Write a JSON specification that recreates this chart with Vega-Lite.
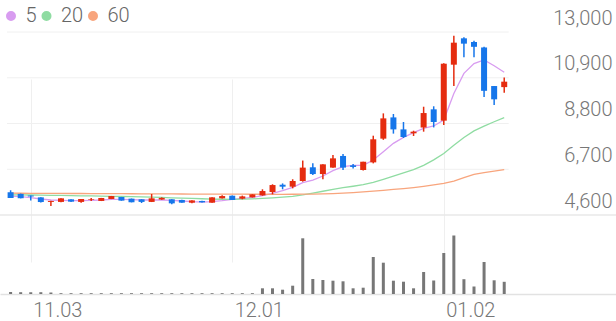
{
  "$schema": "https://vega.github.io/schema/vega-lite/v6.json",
  "width": 616,
  "height": 294,
  "autosize": {"type": "none"},
  "padding": {"left": 0, "top": 0, "right": 0, "bottom": 27},
  "background": "white",
  "config": {"view": {"stroke": null}, "font": "Roboto"},
  "data": {"values": [
    {"i":0,"o":5640,"h":5735,"l":5380,"c":5385,"v":200000,"5":5472,"20":5525,"60":5600},
    {"i":1,"o":5570,"h":5580,"l":5365,"c":5370,"v":180000,"5":5442,"20":5522,"60":5598},
    {"i":2,"o":5490,"h":5495,"l":5260,"c":5445,"v":180000,"5":5395,"20":5518,"60":5596},
    {"i":3,"o":5410,"h":5415,"l":5170,"c":5195,"v":180000,"5":5334,"20":5512,"60":5594},
    {"i":4,"o":5200,"h":5250,"l":5015,"c":5245,"v":150000,"5":5288,"20":5505,"60":5592},
    {"i":5,"o":5200,"h":5370,"l":5190,"c":5365,"v":80000,"5":5273,"20":5498,"60":5590},
    {"i":6,"o":5320,"h":5325,"l":5200,"c":5212,"v":80000,"5":5258,"20":5490,"60":5588},
    {"i":7,"o":5200,"h":5340,"l":5165,"c":5335,"v":80000,"5":5258,"20":5482,"60":5586},
    {"i":8,"o":5290,"h":5380,"l":5240,"c":5320,"v":80000,"5":5273,"20":5474,"60":5584},
    {"i":9,"o":5245,"h":5385,"l":5240,"c":5380,"v":80000,"5":5288,"20":5466,"60":5582},
    {"i":10,"o":5335,"h":5475,"l":5330,"c":5470,"v":80000,"5":5319,"20":5458,"60":5580},
    {"i":11,"o":5425,"h":5430,"l":5255,"c":5260,"v":80000,"5":5319,"20":5450,"60":5578},
    {"i":12,"o":5350,"h":5355,"l":5180,"c":5185,"v":80000,"5":5303,"20":5440,"60":5576},
    {"i":13,"o":5320,"h":5325,"l":5150,"c":5200,"v":80000,"5":5288,"20":5430,"60":5573},
    {"i":14,"o":5200,"h":5565,"l":5195,"c":5365,"v":80000,"5":5288,"20":5418,"60":5570},
    {"i":15,"o":5310,"h":5410,"l":5300,"c":5385,"v":80000,"5":5288,"20":5405,"60":5568},
    {"i":16,"o":5320,"h":5325,"l":5090,"c":5135,"v":80000,"5":5273,"20":5390,"60":5566},
    {"i":17,"o":5290,"h":5295,"l":5160,"c":5165,"v":80000,"5":5243,"20":5375,"60":5564},
    {"i":18,"o":5165,"h":5275,"l":5135,"c":5270,"v":80000,"5":5212,"20":5360,"60":5562},
    {"i":19,"o":5245,"h":5250,"l":5175,"c":5180,"v":80000,"5":5197,"20":5345,"60":5560},
    {"i":20,"o":5165,"h":5415,"l":5160,"c":5410,"v":80000,"5":5212,"20":5330,"60":5558},
    {"i":21,"o":5365,"h":5505,"l":5355,"c":5470,"v":80000,"5":5258,"20":5322,"60":5556},
    {"i":22,"o":5485,"h":5490,"l":5285,"c":5290,"v":80000,"5":5319,"20":5320,"60":5555},
    {"i":23,"o":5350,"h":5490,"l":5320,"c":5455,"v":80000,"5":5365,"20":5325,"60":5554},
    {"i":24,"o":5410,"h":5550,"l":5405,"c":5545,"v":80000,"5":5411,"20":5340,"60":5553},
    {"i":25,"o":5500,"h":5780,"l":5485,"c":5700,"v":570000,"5":5487,"20":5362,"60":5552},
    {"i":26,"o":5655,"h":6010,"l":5550,"c":5975,"v":570000,"5":5594,"20":5390,"60":5551},
    {"i":27,"o":5990,"h":6050,"l":5780,"c":5900,"v":430000,"5":5717,"20":5420,"60":5550},
    {"i":28,"o":5900,"h":6240,"l":5825,"c":6160,"v":830000,"5":5870,"20":5455,"60":5552},
    {"i":29,"o":6160,"h":7100,"l":6130,"c":6775,"v":5570000,"5":6084,"20":5520,"60":5555},
    {"i":30,"o":6790,"h":6970,"l":6435,"c":6480,"v":1500000,"5":6206,"20":5600,"60":5562},
    {"i":31,"o":6480,"h":6930,"l":6240,"c":6925,"v":1400000,"5":6390,"20":5690,"60":5572},
    {"i":32,"o":6775,"h":7355,"l":6770,"c":7200,"v":1330000,"5":6635,"20":5780,"60":5585},
    {"i":33,"o":7310,"h":7400,"l":6665,"c":6775,"v":1270000,"5":6818,"20":5855,"60":5605},
    {"i":34,"o":6880,"h":6940,"l":6740,"c":6805,"v":570000,"5":6880,"20":5920,"60":5630},
    {"i":35,"o":6665,"h":7050,"l":6640,"c":7045,"v":630000,"5":6880,"20":5990,"60":5660},
    {"i":36,"o":7015,"h":8240,"l":6970,"c":8075,"v":3700000,"5":7124,"20":6100,"60":5695},
    {"i":37,"o":8105,"h":9265,"l":8050,"c":9035,"v":3130000,"5":7507,"20":6240,"60":5735},
    {"i":38,"o":9080,"h":9235,"l":8335,"c":8530,"v":1330000,"5":7890,"20":6380,"60":5775},
    {"i":39,"o":8530,"h":8870,"l":8135,"c":8180,"v":1230000,"5":8165,"20":6530,"60":5815},
    {"i":40,"o":8350,"h":8470,"l":8225,"c":8425,"v":570000,"5":8379,"20":6680,"60":5860},
    {"i":41,"o":8615,"h":9570,"l":8425,"c":9280,"v":2200000,"5":8578,"20":6880,"60":5915},
    {"i":42,"o":9450,"h":9590,"l":8620,"c":8870,"v":1350000,"5":8685,"20":7130,"60":5980},
    {"i":43,"o":8930,"h":11560,"l":8730,"c":11545,"v":4100000,"5":8960,"20":7420,"60":6050},
    {"i":44,"o":11500,"h":12830,"l":10520,"c":12510,"v":5850000,"5":10180,"20":7800,"60":6160},
    {"i":45,"o":12710,"h":12755,"l":11840,"c":12465,"v":1480000,"5":11100,"20":8160,"60":6320},
    {"i":46,"o":12540,"h":12600,"l":11840,"c":12320,"v":750000,"5":11550,"20":8460,"60":6470},
    {"i":47,"o":12290,"h":12320,"l":10015,"c":10300,"v":3200000,"5":11720,"20":8680,"60":6550},
    {"i":48,"o":10520,"h":10525,"l":9650,"c":9910,"v":1370000,"5":11450,"20":8880,"60":6615},
    {"i":49,"o":10470,"h":10910,"l":10215,"c":10720,"v":1220000,"5":11150,"20":9070,"60":6680}
  ]},
  "layer": [
    {
      "layer": [
        {
          "data": {"values": [{"p":6700},{"p":8800},{"p":10900},{"p":13000}]},
          "mark": {"type": "rule", "color": "#f0f0f0", "strokeWidth": 1},
          "encoding": {
            "x": {"datum": -0.36, "type": "quantitative", "scale": {"domain": [-0.557, 59.6], "nice": false, "zero": false}},
            "x2": {"datum": 49.44},
            "y": {"field": "p", "type": "quantitative", "scale": {"domain": [4600, 13000], "range": [215, 32], "nice": false, "zero": false}}
          }
        },
        {
          "transform": [{"fold": ["5", "20", "60"], "as": ["k", "m"]}],
          "mark": {"type": "line", "strokeWidth": 1.3},
          "encoding": {
            "x": {"field": "i", "type": "quantitative", "scale": {"domain": [-0.557, 59.6], "nice": false, "zero": false}},
            "y": {"field": "m", "type": "quantitative", "scale": {"domain": [4600, 13000], "range": [215, 32], "nice": false, "zero": false}},
            "color": {
              "field": "k", "type": "nominal",
              "scale": {"domain": ["5", "20", "60"], "range": ["#d89cf0", "#8fdca2", "#f8a57d"]},
              "legend": {
                "orient": "none", "legendX": 1, "legendY": 6, "direction": "horizontal", "title": null,
                "symbolType": "circle", "symbolSize": 25, "symbolStrokeWidth": 5,
                "labelFontSize": 20, "labelColor": "#666", "labelFont": "Roboto", "labelFontWeight": 300,
                "labelOffset": 4.5, "gridAlign": "none", "columnPadding": -3.5, "padding": 0
              }
            }
          }
        },
        {
          "mark": {"type": "rule", "strokeWidth": 1.5},
          "encoding": {
            "x": {"field": "i", "type": "quantitative", "scale": {"domain": [-0.557, 59.6], "nice": false, "zero": false}},
            "y": {"field": "l", "type": "quantitative", "scale": {"domain": [4600, 13000], "range": [215, 32], "nice": false, "zero": false}},
            "y2": {"field": "h"},
            "color": {"condition": {"test": "datum.c >= datum.o", "value": "#e52c0f"}, "value": "#1676ea"}
          }
        },
        {
          "mark": {"type": "bar", "width": 6},
          "encoding": {
            "x": {
              "field": "i", "type": "quantitative",
              "scale": {"domain": [-0.557, 59.6], "nice": false, "zero": false},
              "axis": {
                "values": [2, 22, 43], "title": null,
                "labelExpr": "datum.value == 2 ? '11.03' : (datum.value == 22 ? '12.01' : '01.02')",
                "grid": true, "gridColor": "#efefef", "gridWidth": 1,
                "domain": true, "domainColor": "#e2e2e2", "domainWidth": 1.5,
                "ticks": false, "labelAlign": "left", "labelFontSize": 20, "labelColor": "#777",
                "labelFont": "Roboto", "labelFontWeight": 300, "labelPadding": 6, "labelOffset": 2,
                "labelFlush": false, "labelBound": false, "labelOverlap": false
              }
            },
            "y": {
              "field": "o", "type": "quantitative",
              "scale": {"domain": [4600, 13000], "range": [215, 32], "nice": false, "zero": false},
              "axis": {
                "orient": "right", "values": [4600, 6700, 8800, 10900, 13000], "format": ",.0f", "title": null,
                "grid": false, "domain": false, "ticks": false, "labelAlign": "right", "labelPadding": -4,
                "labelBaseline": "alphabetic", "labelOffset": -8, "labelFontSize": 20, "labelColor": "#777",
                "labelFont": "Roboto", "labelFontWeight": 300, "labelFlush": false, "labelBound": false, "labelOverlap": false
              }
            },
            "y2": {"field": "c"},
            "color": {"condition": {"test": "datum.c >= datum.o", "value": "#e52c0f"}, "value": "#1676ea"}
          }
        }
      ]
    },
    {
      "layer": [
        {
          "mark": {"type": "bar", "width": 3, "color": "#777777"},
          "encoding": {
            "x": {"field": "i", "type": "quantitative", "scale": {"domain": [-0.557, 59.6], "nice": false, "zero": false}},
            "y": {"field": "v", "type": "quantitative", "scale": {"domain": [0, 7900000], "range": [294, 215], "nice": false, "zero": true}, "axis": null}
          }
        },
        {
          "data": {"values": [{}]},
          "mark": {"type": "rule", "color": "#e8e8e8", "strokeWidth": 1.5},
          "encoding": {
            "y": {"datum": 7900000, "type": "quantitative", "scale": {"domain": [0, 7900000], "range": [294, 215], "nice": false, "zero": true}, "axis": null}
          }
        }
      ]
    }
  ],
  "resolve": {"scale": {"y": "independent"}}
}
